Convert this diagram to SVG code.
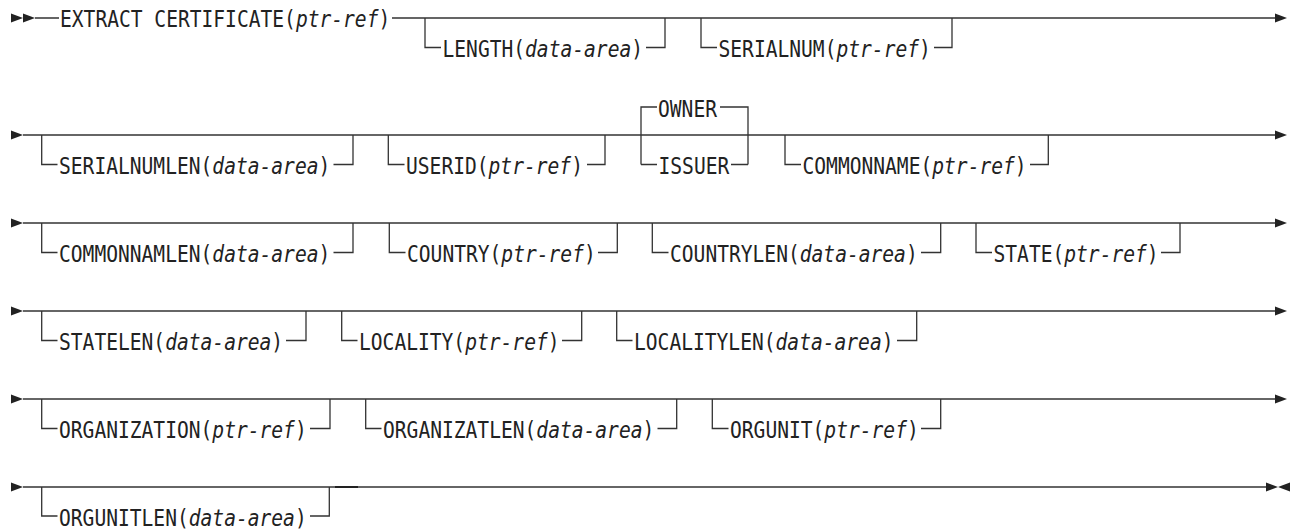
<svg xmlns="http://www.w3.org/2000/svg" xmlns:xlink="http://www.w3.org/1999/xlink" width="1296" height="529" viewBox="0 0 1296 529">
<style>
.ln{fill:none;stroke:#333;stroke-width:1.3}
.t{font-family:"DejaVu Sans Mono","Liberation Mono",monospace;font-size:23px;fill:#222}
.i{font-style:italic}
.ah{fill:#222}
</style>
<defs>
<path id="arr" class="ah" d="M0,-4.5 L12,0 L0,4.5Z"/>
</defs>
<rect width="1296" height="529" fill="#fff"/>
<g id="connectors">
<use xlink:href="#arr" x="11" y="18"/>
<use xlink:href="#arr" x="23" y="18"/>
<path class="ln" d="M35,18 H59 M392,18 H1276"/>
<use xlink:href="#arr" x="1275" y="18"/>
<use xlink:href="#arr" x="11" y="135"/>
<path class="ln" d="M23,135 H1276"/>
<use xlink:href="#arr" x="1275" y="135"/>
<use xlink:href="#arr" x="11" y="223"/>
<path class="ln" d="M23,223 H1276"/>
<use xlink:href="#arr" x="1275" y="223"/>
<use xlink:href="#arr" x="11" y="311"/>
<path class="ln" d="M23,311 H1276"/>
<use xlink:href="#arr" x="1275" y="311"/>
<use xlink:href="#arr" x="11" y="399"/>
<path class="ln" d="M23,399 H1276"/>
<use xlink:href="#arr" x="1275" y="399"/>
<use xlink:href="#arr" x="11" y="487"/>
<path class="ln" d="M23,487 H1266"/>
<path d="M335,487 H358" stroke="#222" stroke-width="2"/>
<use xlink:href="#arr" x="1266" y="487"/>
<path class="ah" d="M1290,482.5 L1278,487 L1290,491.5Z"/>
</g>
<g id="start">
<text class="t" transform="translate(60,26.5) scale(0.852,1)">EXTRACT CERTIFICATE(<tspan class="i">ptr-ref</tspan>)</text>
</g>
<g id="length">
<path class="ln" d="M425,18 V47.5 H441 M646,47.5 H665 V18"/>
<text class="t" transform="translate(442.5,57) scale(0.852,1)">LENGTH(<tspan class="i">data-area</tspan>)</text>
</g>
<g id="serialnum">
<path class="ln" d="M701,18 V47.5 H717 M934,47.5 H952 V18"/>
<text class="t" transform="translate(718.5,57) scale(0.852,1)">SERIALNUM(<tspan class="i">ptr-ref</tspan>)</text>
</g>
<g id="serialnumlen">
<path class="ln" d="M41.7,135 V164.5 H57.5 M333.5,164.5 H353 V135"/>
<text class="t" transform="translate(59,174) scale(0.852,1)">SERIALNUMLEN(<tspan class="i">data-area</tspan>)</text>
</g>
<g id="userid">
<path class="ln" d="M388.3,135 V164.5 H404.5 M587,164.5 H605 V135"/>
<text class="t" transform="translate(406,174) scale(0.852,1)">USERID(<tspan class="i">ptr-ref</tspan>)</text>
</g>
<g id="owner-issuer">
<path class="ln" d="M641,164.5 V107 H657 M720,107 H748 V164.5 M641,164.5 H657 M731,164.5 H748"/>
<text class="t" transform="translate(658,116.5) scale(0.852,1)">OWNER</text>
<text class="t" transform="translate(658.5,174) scale(0.852,1)">ISSUER</text>
</g>
<g id="commonname">
<path class="ln" d="M785,135 V164.5 H801 M1030,164.5 H1048.3 V135"/>
<text class="t" transform="translate(802.5,174) scale(0.852,1)">COMMONNAME(<tspan class="i">ptr-ref</tspan>)</text>
</g>
<g id="commonnamlen">
<path class="ln" d="M41.7,223 V252.5 H57.5 M333.5,252.5 H353 V223"/>
<text class="t" transform="translate(59,262) scale(0.852,1)">COMMONNAMLEN(<tspan class="i">data-area</tspan>)</text>
</g>
<g id="country">
<path class="ln" d="M389.3,223 V252.5 H405.5 M598,252.5 H617.3 V223"/>
<text class="t" transform="translate(407,262) scale(0.852,1)">COUNTRY(<tspan class="i">ptr-ref</tspan>)</text>
</g>
<g id="countrylen">
<path class="ln" d="M652.3,223 V252.5 H668.5 M921,252.5 H940.7 V223"/>
<text class="t" transform="translate(670,262) scale(0.852,1)">COUNTRYLEN(<tspan class="i">data-area</tspan>)</text>
</g>
<g id="state">
<path class="ln" d="M976,223 V252.5 H992 M1161,252.5 H1180 V223"/>
<text class="t" transform="translate(993.5,262) scale(0.852,1)">STATE(<tspan class="i">ptr-ref</tspan>)</text>
</g>
<g id="statelen">
<path class="ln" d="M41.7,311 V340.5 H57.5 M286,340.5 H306 V311"/>
<text class="t" transform="translate(59,350) scale(0.852,1)">STATELEN(<tspan class="i">data-area</tspan>)</text>
</g>
<g id="locality">
<path class="ln" d="M341.7,311 V340.5 H357.5 M562,340.5 H581.7 V311"/>
<text class="t" transform="translate(359,350) scale(0.852,1)">LOCALITY(<tspan class="i">ptr-ref</tspan>)</text>
</g>
<g id="localitylen">
<path class="ln" d="M616.7,311 V340.5 H632.5 M897,340.5 H916.7 V311"/>
<text class="t" transform="translate(634,350) scale(0.852,1)">LOCALITYLEN(<tspan class="i">data-area</tspan>)</text>
</g>
<g id="organization">
<path class="ln" d="M41.7,399 V428.5 H57.5 M310,428.5 H330 V399"/>
<text class="t" transform="translate(59,438) scale(0.852,1)">ORGANIZATION(<tspan class="i">ptr-ref</tspan>)</text>
</g>
<g id="organizatlen">
<path class="ln" d="M365.7,399 V428.5 H381.5 M657.5,428.5 H676.7 V399"/>
<text class="t" transform="translate(383,438) scale(0.852,1)">ORGANIZATLEN(<tspan class="i">data-area</tspan>)</text>
</g>
<g id="orgunit">
<path class="ln" d="M712.3,399 V428.5 H728.5 M921,428.5 H940.7 V399"/>
<text class="t" transform="translate(730,438) scale(0.852,1)">ORGUNIT(<tspan class="i">ptr-ref</tspan>)</text>
</g>
<g id="orgunitlen">
<path class="ln" d="M41.7,487 V516 H57.5 M310,516 H329.3 V487"/>
<text class="t" transform="translate(59,525.5) scale(0.852,1)">ORGUNITLEN(<tspan class="i">data-area</tspan>)</text>
</g>
</svg>
